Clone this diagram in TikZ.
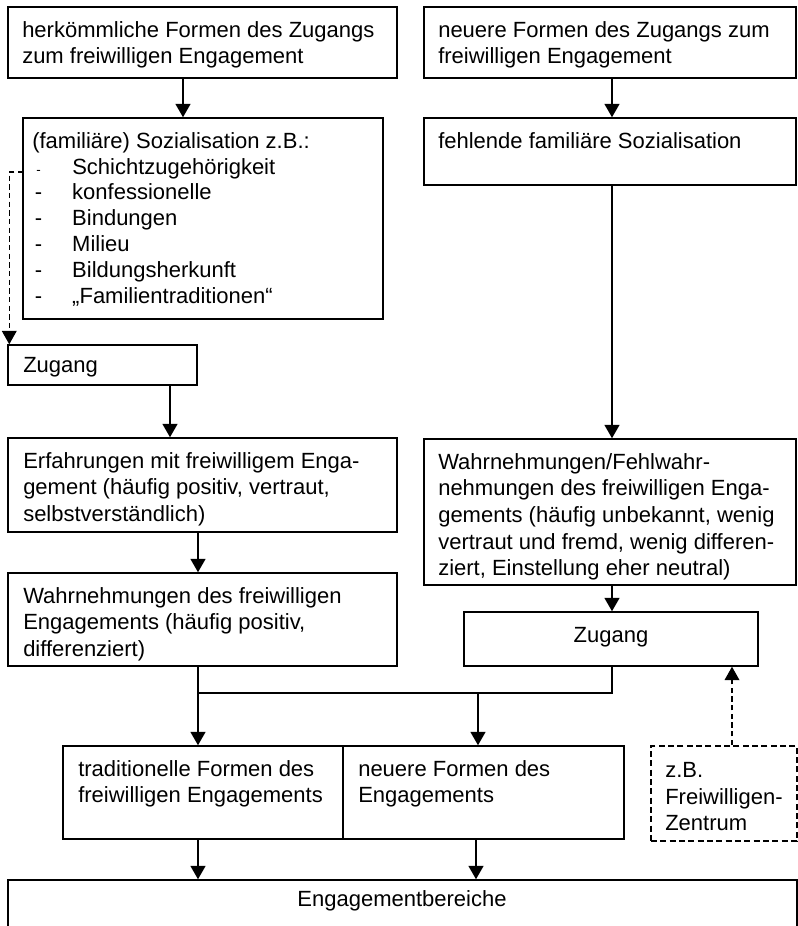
\documentclass[tikz,border=0pt]{standalone}
\usepackage{fontspec}
\setmainfont{Liberation Sans}
\usetikzlibrary{arrows.meta,fit,calc}
\begin{document}
\begin{tikzpicture}[x=0.75pt,y=-0.75pt,
  box/.style={draw, line width=1.1pt, inner sep=0pt},
  dbox/.style={draw, line width=1.3pt, dash pattern=on 4.5pt off 2.5pt, inner sep=0pt},
  lbl/.style={anchor=north west, inner sep=0pt, align=left, font=\fontsize{16.5pt}{20pt}\selectfont},
  lblb/.style={anchor=base, inner sep=0pt, font=\fontsize{16.5pt}{20pt}\selectfont},
  arr/.style={line width=1.6pt, -{Triangle[width=11pt,length=10pt]}},
  ln/.style={line width=1.6pt},
  darr/.style={line width=1pt, dash pattern=on 4pt off 2.5pt, -{Triangle[width=11pt,length=10pt]}},
]
\useasboundingbox (0,0) rectangle (798,926);

% boxes
\node[box, fit={(8,7) (397,78)}] (b1) {};
\node[box, fit={(424,7) (796,78)}] (b2) {};
\node[box, fit={(23,118) (383,319)}] (fam) {};
\node[box, fit={(424,118) (796,185)}] (fehl) {};
\node[box, fit={(8,345) (197,385)}] (zug1) {};
\node[box, fit={(8,438) (397,532)}] (erf) {};
\node[box, fit={(424,439) (796,585)}] (wr) {};
\node[box, fit={(8,573) (397,666)}] (wl) {};
\node[box, fit={(464,612) (758,666)}] (zug2) {};
\node[box, fit={(63,746) (343,839)}] (trad) {};
\node[box, fit={(343,746) (624,839)}] (neu) {};
\node[dbox, fit={(651,746) (797,841)}] (zbox) {};
\node[box, fit={(8,880) (797,960)}] (bereich) {};

% texts
\node[lbl] (b1t) at (22,21) {herkömmliche Formen des Zugangs\\zum freiwilligen Engagement};
\node[lbl] (b2t) at (438,21) {neuere Formen des Zugangs zum\\freiwilligen Engagement};
\node[lbl, font=\fontsize{16.5pt}{19.4pt}\selectfont] (famt) at (32,132) {(familiäre) Sozialisation z.B.:\\
  \makebox[30pt][l]{\hspace{3pt}{\fontsize{10pt}{10pt}\selectfont -}}Schichtzugehörigkeit\\
  \makebox[30pt][l]{\hspace{2pt}-}konfessionelle\\
  \makebox[30pt][l]{\hspace{2pt}-}Bindungen\\
  \makebox[30pt][l]{\hspace{2pt}-}Milieu\\
  \makebox[30pt][l]{\hspace{2pt}-}Bildungsherkunft\\
  \makebox[30pt][l]{\hspace{2pt}-}„Familientraditionen“};
\node[lbl] (fehlt) at (438,132) {fehlende familiäre Sozialisation};
\node[lbl] (zug1t) at (23,357) {Zugang};
\node[lbl] (erft) at (23,452) {Erfahrungen mit freiwilligem Enga-\\gement (häufig positiv, vertraut,\\selbstverständlich)};
\node[lbl] (wlt) at (23,587) {Wahrnehmungen des freiwilligen\\Engagements (häufig positiv,\\differenziert)};
\node[lbl] (wrt) at (438,453) {Wahrnehmungen/Fehlwahr-\\nehmungen des freiwilligen Enga-\\gements (häufig unbekannt, wenig\\vertraut und fremd, wenig differen-\\ziert, Einstellung eher neutral)};
\node[lblb] (zug2t) at (611,642) {Zugang};
\node[lbl] (tradt) at (78,760) {traditionelle Formen des\\freiwilligen Engagements};
\node[lbl] (neut) at (358,760) {neuere Formen des\\Engagements};
\node[lbl] (zboxt) at (665,762) {z.B.\\Freiwilligen-\\Zentrum};
\node[lblb] (bereicht) at (402,906) {Engagementbereiche};

% column positions of the connectors
\coordinate (cA) at (183,0);
\coordinate (cB) at (612,0);
\coordinate (cC) at (170,0);
\coordinate (cD) at (198,0);
\coordinate (cE) at (478,0);
\coordinate (cF) at (732,0);
\coordinate (cG) at (476,0);
\coordinate (famout) at (23,172);
\coordinate (jl) at (198,693);
\coordinate (jr) at (478,693);

% connectors
\draw[arr] (b1.south -| cA) -- (fam.north -| cA);
\draw[arr] (b2.south -| cB) -- (fehl.north -| cB);
\draw[arr] (fehl.south -| cB) -- (wr.north -| cB);
\draw[darr] (famout) -| ($(zug1.north west)+(2,0)$);
\draw[arr] (zug1.south -| cC) -- (erf.north -| cC);
\draw[arr] (erf.south -| cD) -- (wl.north -| cD);
\draw[arr] (wr.south -| cB) -- (zug2.north -| cB);
\draw[arr] (wl.south -| cD) -- (trad.north -| cD);
\draw[ln] (zug2.south -| cB) |- (jl);
\draw[arr] (jr) -- (neu.north -| cE);
\draw[darr] (zbox.north -| cF) -- (zug2.south -| cF);
\draw[arr] (trad.south -| cD) -- (bereich.north -| cD);
\draw[arr] (neu.south -| cG) -- (bereich.north -| cG);
\end{tikzpicture}
\end{document}
